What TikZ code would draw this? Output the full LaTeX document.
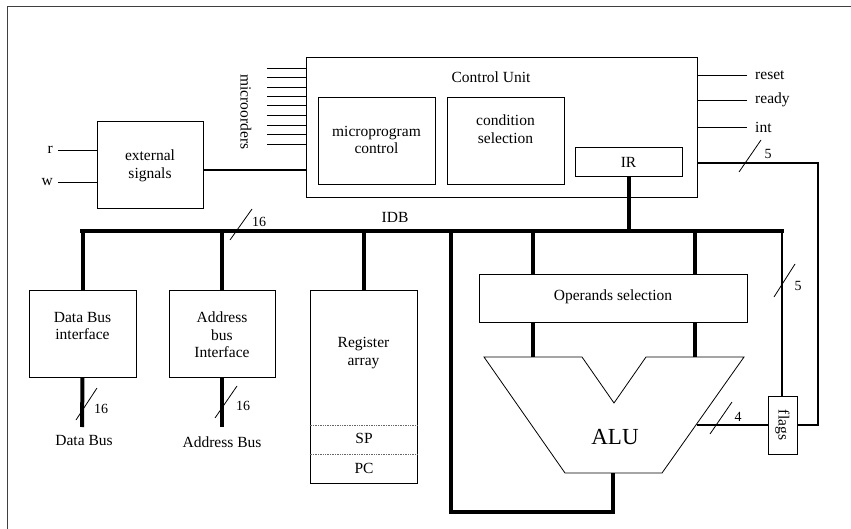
\documentclass[tikz,border=0pt]{standalone}
\usepackage{fontspec}
\setmainfont{Liberation Serif}
\begin{document}
\begin{tikzpicture}[x=1pt,y=-1pt,
  box/.style={draw, line width=0.9pt, inner sep=0pt},
  lbl/.style={font=\fontsize{15.5}{17.5}\selectfont, align=center, inner sep=0pt},
  small/.style={font=\fontsize{14}{16}\selectfont, inner sep=0pt},
  bus/.style={line width=4pt},
  wire/.style={line width=0.9pt},
  mid/.style={line width=1.5pt},
  tick/.style={line width=0.8pt}]
\useasboundingbox (0,0) rectangle (851,529);
% frame
\draw[line width=1pt, black!75] (7,529) -- (7,7) -- (851,7);

% control unit
\node[box, minimum width=391pt, minimum height=140pt] (cu) at (501.5,127) {};
\node[lbl] (cut) at (491,77) {Control Unit};
\node[box, minimum width=117pt, minimum height=87pt] (mpc) at (376.5,140.5) {};
\node[lbl] (mpct) at (376.5,140) {microprogram\\control};
\node[box, minimum width=117pt, minimum height=87pt] (cs) at (505.5,140.5) {};
\node[lbl] (cst) at (505.5,129) {condition\\selection};
\node[box, minimum width=107pt, minimum height=29pt] (ir) at (628.5,161.5) {};
\node[lbl] (irt) at (628.5,162) {IR};

% microorders
\foreach \yy [count=\i] in {68,77,87,96,105,115,125,134,144}{
  \coordinate (mo\i) at (267,\yy);
  \draw[wire] (mo\i) -- (mo\i -| cu.west);
}
\node[lbl, rotate=-90] (mot) at (246,112) {microorders};

% external signals
\node[box, minimum width=106pt, minimum height=87pt] (ext) at (150,164.5) {};
\node[lbl] (extt) at (150,166) {external\\signals};
\node[lbl, anchor=east] (r) at (53,150) {r};
\node[lbl, anchor=east] (w) at (53,182) {w};
\draw[wire] (r.east) ++(5,0) coordinate (rs) (rs) -- (rs -| ext.west);
\draw[wire] (w.east) ++(5,0) coordinate (ws) (ws) -- (ws -| ext.west);
\draw[mid] (ext.east |- 0,170) coordinate (ec) -- (ec -| cu.west);

% status lines on the right
\node[lbl, anchor=west] (reset) at (755,75) {reset};
\node[lbl, anchor=west] (ready) at (755,100) {ready};
\node[lbl, anchor=west] (int) at (755,127) {int};
\foreach \n in {reset,ready,int}{
  \draw[wire] (cu.east |- \n.west) -- ([xshift=-8pt]\n.west);
}

% boxes below the bus
\node[box, minimum width=107pt, minimum height=87pt] (dbi) at (82.5,333.5) {};
\node[lbl] (dbit) at (82.5,326) {Data Bus\\interface};
\node[box, minimum width=106pt, minimum height=87pt] (abi) at (222,333.5) {};
\node[lbl] (abit) at (222,335) {Address\\bus\\Interface};
\node[box, minimum width=107pt, minimum height=193pt] (reg) at (363.5,386.5) {};
\node[lbl] (regt) at (363.5,353) {Register\\array};
\draw[densely dotted, line width=0.7pt, black!60] (reg.west |- 0,425) -- (reg.east |- 0,425);
\draw[densely dotted, line width=0.7pt, black!60] (reg.west |- 0,454) -- (reg.east |- 0,454);
\node[lbl] (sp) at (364,438) {SP};
\node[lbl] (pc) at (364,468) {PC};

\node[box, minimum width=268pt, minimum height=48pt] (ops) at (613,298) {};
\node[lbl] (opst) at (613,297) {Operands selection};

% ALU
\coordinate (a1) at (484,357);
\coordinate (a2) at (582,357);
\coordinate (a3) at (614,403);
\coordinate (a4) at (646,357);
\coordinate (a5) at (744,357);
\coordinate (a6) at (662,473);
\coordinate (a7) at (565,473);
\draw[line width=0.8pt] (a1) -- (a2) -- (a3) -- (a4) -- (a5) -- (a6) -- (a7) -- cycle;
\node[font=\fontsize{23}{25}\selectfont, inner sep=0pt] (alu) at (615,437) {ALU};

\node[box, minimum width=29pt, minimum height=58pt] (flags) at (782.5,425) {};
\node[lbl, rotate=-90] (flagst) at (782.5,425) {flags};

% internal data bus
\coordinate (bl) at (82,231);
\coordinate (br) at (782,231);
\draw[bus, line cap=rect] (bl) -- (br);
\node[lbl] (idb) at (395,217) {IDB};
\draw[bus] (dbi.north) -- (dbi.north |- bl);
\draw[bus] (abi.north) -- (abi.north |- bl);
\draw[bus] (reg.north) -- (reg.north |- bl);
\draw[bus] (ir.south) -- (ir.south |- bl);
\draw[bus] (533,231) -- (ops.north -| 533,0);
\draw[bus] (695,231) -- (ops.north -| 695,0);
\draw[bus] (ops.south -| 533,0) -- (a1 -| 533,0);
\draw[bus] (ops.south -| 695,0) -- (a1 -| 695,0);
\draw[bus, line join=miter] (451,231) -- (451,512) -- (613,512) -- (613,473);
\draw[tick] (230,240) -- (252,209);
\node[small] (n16a) at (259,222) {16};

% external buses
\coordinate (dbe) at (82,427);
\coordinate (abe) at (222,427);
\draw[bus] (dbi.south) -- (dbe);
\draw[bus] (abi.south -| abe) -- (abe);
\draw[tick] (76,420) -- (97,388);
\node[small] (n16b) at (101,409) {16};
\draw[tick] (215,418) -- (237,386);
\node[small] (n16c) at (243,406) {16};
\node[lbl] (dbus) at (84,440) {Data Bus};
\node[lbl] (abus) at (222,442) {Address Bus};

% flag paths
\draw[mid] (br) -- (flags.north -| br);
\draw[tick] (774,297) -- (795,264);
\node[small] (n5a) at (798,286) {5};
\draw[mid] (697,425) -- (flags.west);
\draw[tick] (710,434) -- (732,402);
\node[small] (n4) at (738,417) {4};
\draw[mid, line join=miter] (flags.east) -- (818,425) -- (818,163) -- (cu.east |- 0,163);
\draw[tick] (739,172) -- (761,140);
\node[small] (n5b) at (768,154) {5};
\end{tikzpicture}
\end{document}
